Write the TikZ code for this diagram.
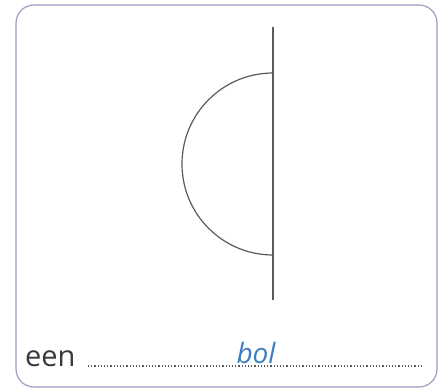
\documentclass[tikz,border=0pt]{standalone}
\usepackage{fontspec}
\setmainfont{Open Sans}
\definecolor{frame}{HTML}{A592BE}
\definecolor{ink}{HTML}{5A5A5A}
\definecolor{label}{HTML}{3A3A3A}
\definecolor{answer}{HTML}{3C7DC4}
\tikzset{
  shape line/.style={draw=ink, line width=1.2pt},
  dotline/.style={draw=ink, line width=1.3pt, dash pattern=on 1.2pt off 2pt},
}
\begin{document}
\begin{tikzpicture}[x=1pt,y=-1pt]
\useasboundingbox (0,0) rectangle (447,390);
\fill[white] (0,0) rectangle (447,390);
\draw[frame, line width=1.1pt, rounded corners=18pt] (16,5) rectangle (437,387);
% axis
\coordinate (top) at (273,27);
\coordinate (bot) at (273,300);
\coordinate (a1) at (273,73);
\coordinate (a2) at (273,255);
\draw[shape line] (top) -- (bot);
\draw[shape line] (a1) arc[start angle=-90, end angle=-270, radius=91];
% label
\node[anchor=base west, inner sep=0pt, text=label, font=\fontsize{29}{29}\selectfont] (een) at (25,366) {een};
\coordinate (d1) at (88,366);
\coordinate (d2) at (423,366);
\draw[dotline] (d1) -- (d2);
\node[anchor=base, inner sep=0pt, text=answer, font=\fontsize{28}{28}\selectfont\itshape] (bol) at (256,363) {bol};
\end{tikzpicture}
\end{document}
